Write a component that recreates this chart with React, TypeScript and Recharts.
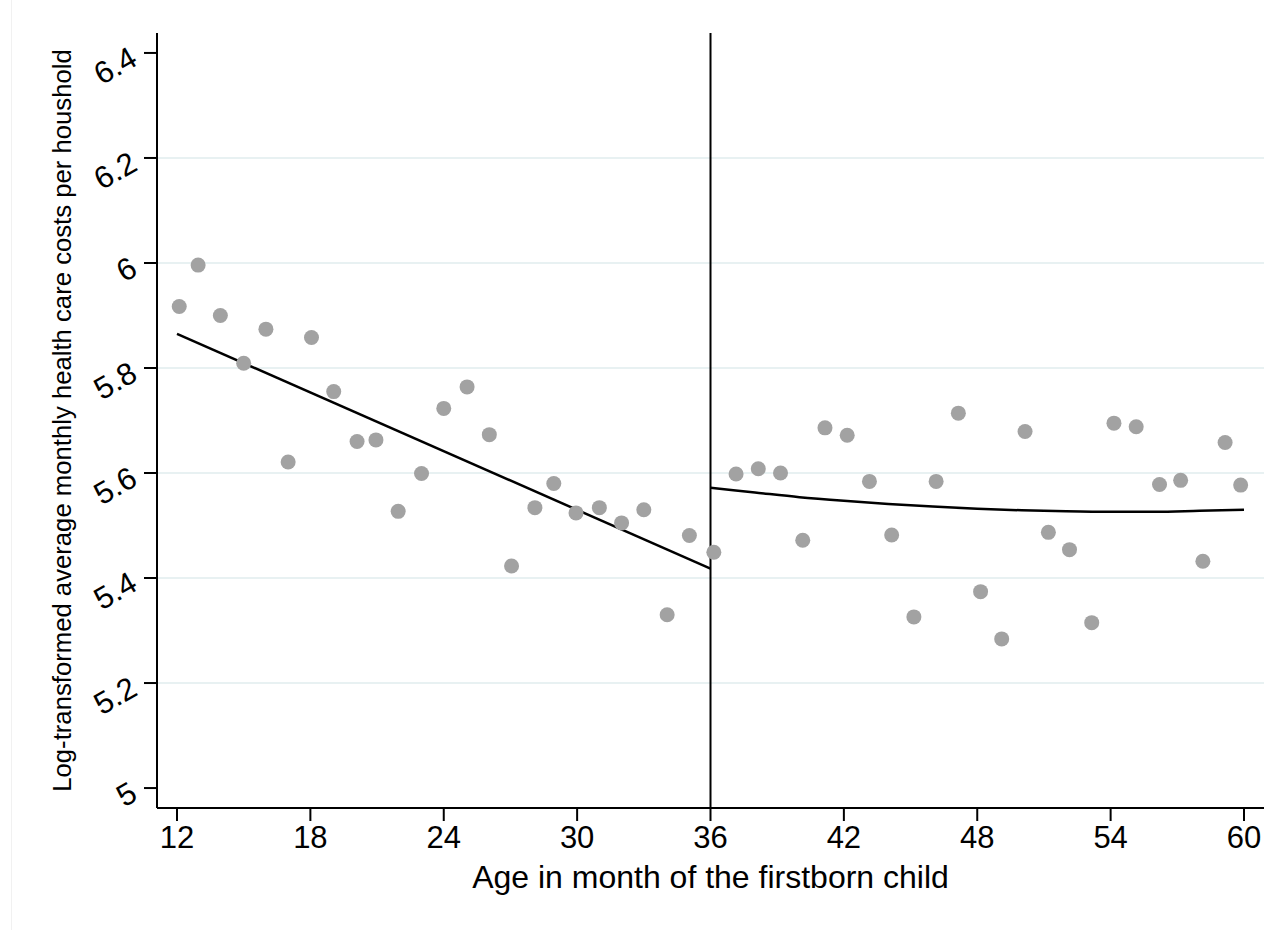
import {
  ComposedChart,
  Line,
  ReferenceLine,
  Scatter,
  XAxis,
  YAxis,
} from 'recharts';

// binned means (age in months of the firstborn child)
const ages = [
  12.1, 12.95, 13.95, 15.0, 16.0, 17.0, 18.05, 19.05, 20.1, 20.95, 21.95, 23.0, 24.0,
  25.05, 26.05, 27.05, 28.1, 28.95, 29.95, 31.0, 32.0, 33.0, 34.05, 35.05, 36.15,
  37.15, 38.15, 39.15, 40.15, 41.15, 42.15, 43.15, 44.15, 45.15, 46.15, 47.15, 48.15,
  49.1, 50.15, 51.2, 52.15, 53.15, 54.15, 55.15, 56.2, 57.15, 58.15, 59.15, 59.85,
];
const logCosts = [
  5.917, 5.996, 5.9, 5.809, 5.874, 5.621, 5.858, 5.755, 5.66, 5.663, 5.527, 5.599, 5.723,
  5.764, 5.673, 5.423, 5.534, 5.58, 5.524, 5.534, 5.505, 5.53, 5.33, 5.481, 5.449,
  5.598, 5.608, 5.6, 5.472, 5.686, 5.672, 5.584, 5.482, 5.326, 5.584, 5.714, 5.374,
  5.284, 5.679, 5.487, 5.454, 5.315, 5.695, 5.688, 5.578, 5.586, 5.432, 5.658, 5.577,
];

// fitted lines either side of the 36 month cutoff
const preFitAges = [12, 36];
const preFitValues = [5.865, 5.418];
const postFitAges = [36, 38, 40, 42, 44, 46, 48, 50, 52, 54, 56, 58, 60];
const postFitValues = [
  5.572, 5.563, 5.554, 5.547, 5.541, 5.536, 5.532, 5.529, 5.527, 5.526, 5.526, 5.528, 5.53,
];

const cutoff = 36;
const xTicks = [12, 18, 24, 30, 36, 42, 48, 54, 60];
const yTicks = [5, 5.2, 5.4, 5.6, 5.8, 6, 6.2, 6.4];
const gridValues = [5.2, 5.4, 5.6, 5.8, 6, 6.2];

const FONT = '"Liberation Sans", Arial, Helvetica, sans-serif';

const points = ages.map((x, i) => ({ x, y: logCosts[i] }));
const preFit = preFitAges.map((x, i) => ({ x, y: preFitValues[i] }));
const postFit = postFitAges.map((x, i) => ({ x, y: postFitValues[i] }));

function YTick(props: any) {
  const { x, y, payload } = props;
  const ax = x - 3;
  const ay = y + 4;
  return (
    <text
      x={ax}
      y={ay}
      textAnchor="end"
      dominantBaseline="middle"
      transform={`rotate(-30 ${ax} ${ay})`}
      fontFamily={FONT}
      fontSize={31}
      fill="#000"
    >
      {String(payload.value)}
    </text>
  );
}

function YTitle(props: any) {
  const vb = props.viewBox;
  const cx = 71;
  const cy = vb.y + vb.height / 2;
  return (
    <text
      x={cx}
      y={cy}
      textAnchor="middle"
      transform={`rotate(-90 ${cx} ${cy})`}
      fontFamily={FONT}
      fontSize={25.7}
      fill="#000"
    >
      Log-transformed average monthly health care costs per houshold
    </text>
  );
}

const Dot = (props: any) => (
  <circle cx={props.cx} cy={props.cy} r={7.5} fill="#a2a2a2" />
);

export default function App() {
  return (
    <div style={{ position: 'absolute', left: 0, top: 0, width: 1279, height: 930, background: '#fff' }}>
      <div style={{ position: 'absolute', left: 11, top: 0, width: 1, height: 930, background: '#f1f1f1' }} />
      <ComposedChart
        width={1279}
        height={930}
        margin={{ top: 33, right: 15, bottom: 22, left: 0 }}
      >
        {gridValues.map((v) => (
          <ReferenceLine key={v} y={v} stroke="#e8f1f2" strokeWidth={2} />
        ))}
        <XAxis
          type="number"
          dataKey="x"
          domain={[11.1, 60.9]}
          ticks={xTicks}
          height={100}
          tickSize={13}
          tickMargin={5}
          axisLine={{ stroke: '#000', strokeWidth: 2 }}
          tickLine={{ stroke: '#000', strokeWidth: 2 }}
          tick={{ fill: '#000', fontSize: 31, fontFamily: FONT }}
          allowDataOverflow
          label={{
            value: 'Age in month of the firstborn child',
            position: 'insideBottom',
            offset: 20,
            style: { fill: '#000', fontSize: 32, fontFamily: FONT },
          }}
        />
        <YAxis
          type="number"
          dataKey="y"
          domain={[4.962, 6.438]}
          ticks={yTicks}
          width={157}
          tickSize={13}
          tickMargin={6}
          axisLine={{ stroke: '#000', strokeWidth: 2 }}
          tickLine={{ stroke: '#000', strokeWidth: 2 }}
          tick={<YTick />}
          allowDataOverflow
          label={{ content: <YTitle /> }}
        />
        <ReferenceLine x={cutoff} stroke="#000" strokeWidth={2} />
        <Scatter data={points} dataKey="y" shape={<Dot />} isAnimationActive={false} />
        <Line
          data={preFit}
          dataKey="y"
          type="linear"
          stroke="#000"
          strokeWidth={2.5}
          dot={false}
          activeDot={false}
          isAnimationActive={false}
        />
        <Line
          data={postFit}
          dataKey="y"
          type="monotone"
          stroke="#000"
          strokeWidth={2.5}
          dot={false}
          activeDot={false}
          isAnimationActive={false}
        />
      </ComposedChart>
    </div>
  );
}
